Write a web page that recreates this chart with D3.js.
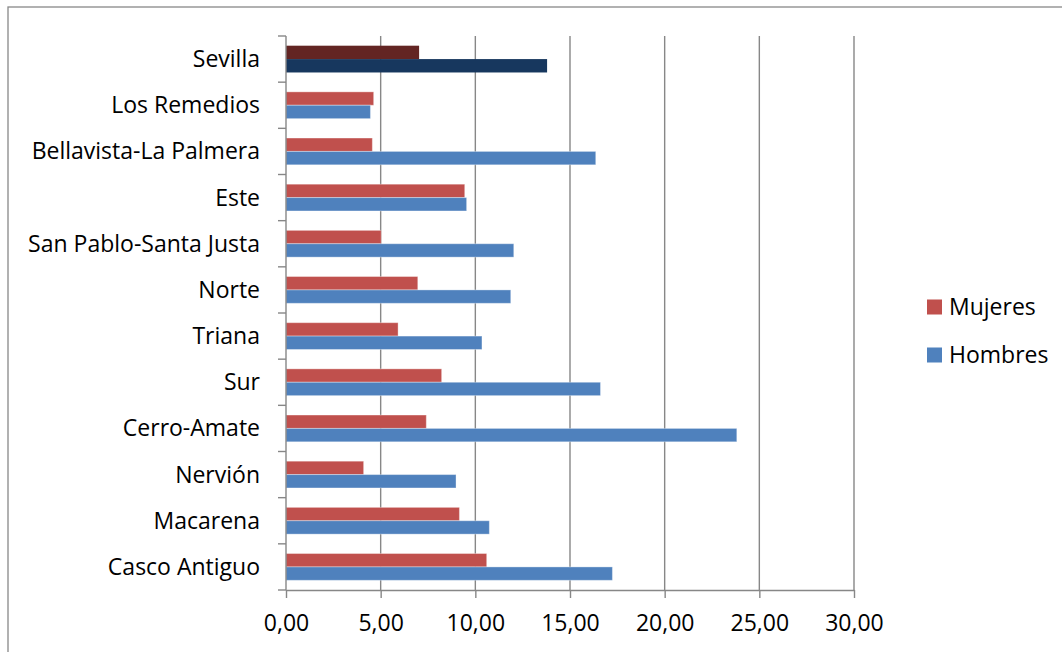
<!DOCTYPE html>
<html><head><meta charset="utf-8">
<script src="https://cdn.jsdelivr.net/npm/d3@7"></script>
<style>
html,body{margin:0;padding:0;background:#fff;}
svg{display:block;}
text{font-family:"Open Sans","Noto Sans",sans-serif;fill:#000;}
</style></head>
<body><svg id="chart" width="1062" height="652"></svg>
<script>
const categories = ["Sevilla","Los Remedios","Bellavista-La Palmera","Este","San Pablo-Santa Justa","Norte","Triana","Sur","Cerro-Amate","Nervión","Macarena","Casco Antiguo"];
const mujeres = [7.03,4.63,4.56,9.44,5.03,6.96,5.92,8.22,7.41,4.10,9.16,10.60];
const hombres = [13.79,4.46,16.36,9.54,12.03,11.87,10.35,16.61,23.81,8.98,10.74,17.24];
const seriesNames = ["Mujeres","Hombres"];
const xTicks = [0,5,10,15,20,25,30];

const colors = {Mujeres:"#C0504D", Hombres:"#4F81BD"};
const highlight = {Mujeres:"#632523", Hombres:"#17375E"};

const svg = d3.select("#chart");
const pL = 286, pR = 854, pT = 36, pB = 590;
const FS = 23;

// outer border
svg.append("rect").attr("x",8).attr("y",7).attr("width",1070).attr("height",660)
  .attr("fill","none").attr("stroke","#888").attr("stroke-width",1.3);

const x = d3.scaleLinear().domain([0,30]).range([pL,pR]);
const y = d3.scaleBand().domain(categories).range([pT,pB]).paddingInner(0.42).paddingOuter(0.21);
const ys = d3.scaleBand().domain(seriesNames).range([0,y.bandwidth()]);

const loc = d3.formatLocale({decimal:",",thousands:".",grouping:[3],currency:["","€"]});
const fmt = loc.format(".2f");

// gridlines
svg.append("g").selectAll("line").data(xTicks.slice(1)).join("line")
  .attr("x1",d=>x(d)).attr("x2",d=>x(d)).attr("y1",pT).attr("y2",pB)
  .attr("stroke","#878787").attr("stroke-width",1.4);

// bars
const rows = categories.map((c,i)=>({cat:c, vals:[{s:"Mujeres",v:mujeres[i]},{s:"Hombres",v:hombres[i]}]}));
const g = svg.append("g");
rows.forEach((r,i)=>{
  g.selectAll(null).data(r.vals).join("rect")
    .attr("x",x(0)).attr("y",d=>y(r.cat)+ys(d.s))
    .attr("width",d=>x(d.v)-x(0)).attr("height",ys.bandwidth())
    .attr("fill",d=> i===0 ? highlight[d.s] : colors[d.s])
    .attr("stroke",d=> i===0 ? "none" : "#fff").attr("stroke-opacity",0.35).attr("stroke-width",1);
});

// x axis
const xAxis = svg.append("g").attr("transform",`translate(0,${pB})`)
  .call(d3.axisBottom(x).tickValues(xTicks).tickFormat(fmt).tickSize(8).tickSizeOuter(0).tickPadding(17));
xAxis.select(".domain").attr("stroke","#878787").attr("stroke-width",1.4);
xAxis.selectAll(".tick line").attr("stroke","#878787").attr("stroke-width",1.4);
xAxis.selectAll(".tick text").attr("font-size",FS).attr("font-family","Open Sans").attr("fill","#000");

// y axis line and ticks at band boundaries
svg.append("line").attr("x1",pL).attr("x2",pL).attr("y1",pT).attr("y2",pB)
  .attr("stroke","#878787").attr("stroke-width",1.4);
const bounds = categories.map(c=>y(c)-y.step()*y.paddingInner()/2).concat([pB]);
svg.append("g").selectAll("line").data(bounds).join("line")
  .attr("x1",pL-8).attr("x2",pL).attr("y1",d=>d).attr("y2",d=>d)
  .attr("stroke","#878787").attr("stroke-width",1.4);
svg.append("g").selectAll("text").data(categories).join("text")
  .attr("x",pL-26).attr("y",c=>y(c)+y.bandwidth()/2).attr("dy","0.35em")
  .attr("text-anchor","end").attr("font-size",FS).text(c=>c);

// legend
const lg = svg.append("g");
seriesNames.forEach((s,i)=>{
  const cy = 307 + i*48;
  lg.append("rect").attr("x",927).attr("y",cy-7.5).attr("width",15).attr("height",15).attr("fill",colors[s]);
  lg.append("text").attr("x",949).attr("y",cy).attr("dy","0.35em").attr("font-size",FS).text(s);
});
</script></body></html>
